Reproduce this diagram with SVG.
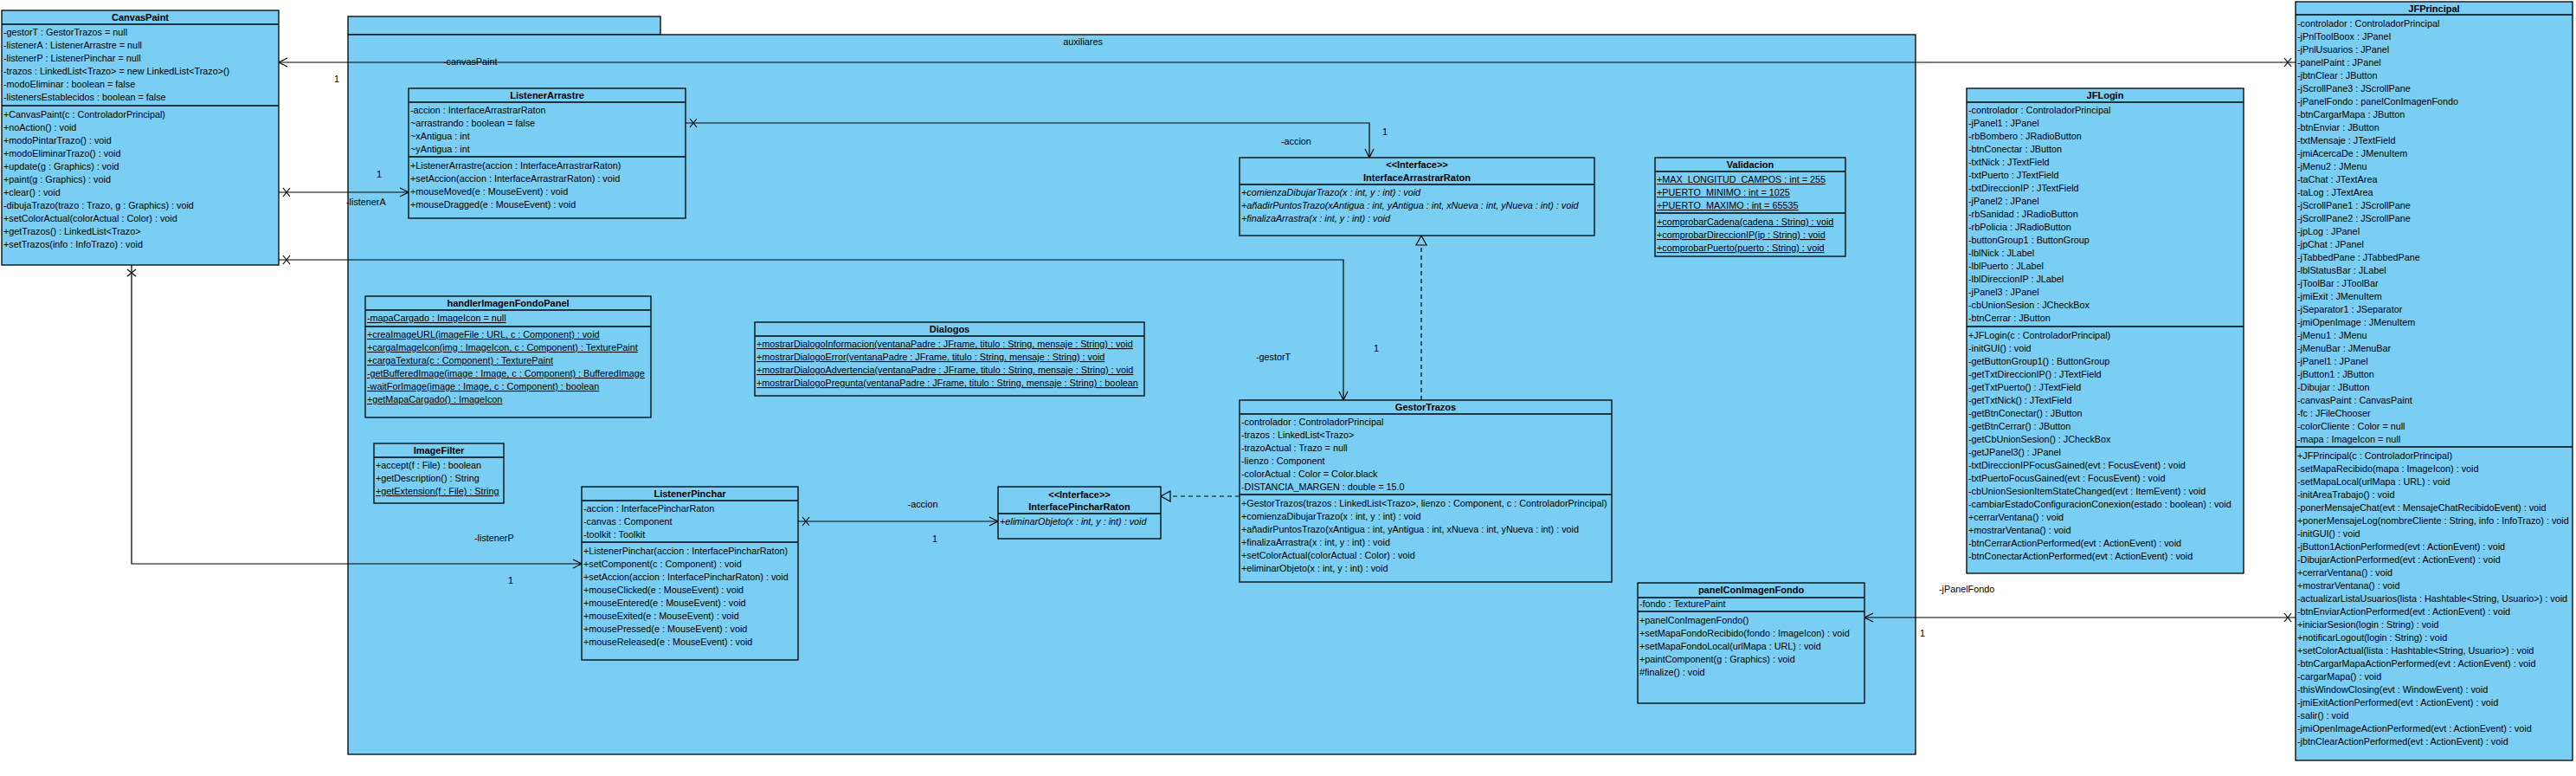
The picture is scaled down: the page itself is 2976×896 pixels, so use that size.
<svg xmlns="http://www.w3.org/2000/svg" width="2976" height="896" viewBox="0 0 2976 896">
<style>
.bg{fill:#fff}
.box{fill:#7ACEF4;stroke:#000;stroke-width:1.3}
.sep{stroke:#000;stroke-width:1.3}
.t{font-family:"Liberation Sans",Arial,sans-serif;font-size:10.8px;fill:#000}
.h{font-weight:bold;font-size:11px;text-anchor:middle}
.c{text-anchor:middle}
.u{text-decoration:underline}
.i{font-style:italic}
.ln{stroke:#000;stroke-width:1.2;fill:none}
.dash{stroke-dasharray:5 4}
</style>
<defs>
<marker id="open" markerUnits="userSpaceOnUse" viewBox="-14 -8 16 16" refX="0" refY="0" markerWidth="16" markerHeight="16" orient="auto">
<path d="M-10,-5 L0,0 L-10,5" fill="none" stroke="#000" stroke-width="1.2"/>
</marker>
<marker id="xs" markerUnits="userSpaceOnUse" viewBox="-2 -8 20 16" refX="0" refY="0" markerWidth="20" markerHeight="16" orient="auto">
<path d="M5,-5 L13,5 M5,5 L13,-5" fill="none" stroke="#000" stroke-width="1.2"/>
</marker>
<marker id="tri" markerUnits="userSpaceOnUse" viewBox="-14 -8 16 16" refX="0" refY="0" markerWidth="16" markerHeight="16" orient="auto">
<path d="M0,0 L-11,-6 L-11,6 Z" fill="#7ACEF4" stroke="#000" stroke-width="1.2"/>
</marker>
</defs>
<rect class="bg" x="0" y="0" width="2976" height="896"/>

<g id="pkg-auxiliares">
<rect class="box" x="402" y="19" width="361" height="21"/>
<rect class="box" x="402" y="40" width="1811" height="831"/>
<text class="t c" x="1251" y="52">auxiliares</text>
</g>

<g id="connectors">
<path class="ln" d="M2652,72 L322,72" marker-start="url(#xs)" marker-end="url(#open)"/>
<text class="t" x="512" y="75">-canvasPaint</text>
<text class="t" x="386" y="95">1</text>
<path class="ln" d="M322,222 L472,222" marker-start="url(#xs)" marker-end="url(#open)"/>
<text class="t" x="400" y="237">-listenerA</text>
<text class="t" x="435" y="205">1</text>
<path class="ln" d="M792,142 L1582,142 L1582,182" marker-start="url(#xs)" marker-end="url(#open)"/>
<text class="t" x="1480" y="167">-accion</text>
<text class="t" x="1597" y="156">1</text>
<path class="ln" d="M322,300 L1552,300 L1552,462" marker-start="url(#xs)" marker-end="url(#open)"/>
<text class="t" x="1451" y="416">-gestorT</text>
<text class="t" x="1587" y="406">1</text>
<path class="ln" d="M152,306 L152,651 L672,651" marker-start="url(#xs)" marker-end="url(#open)"/>
<text class="t" x="548" y="625">-listenerP</text>
<text class="t" x="587" y="674">1</text>
<path class="ln" d="M922,602 L1153,602" marker-start="url(#xs)" marker-end="url(#open)"/>
<text class="t c" x="1066" y="586">-accion</text>
<text class="t c" x="1080" y="626">1</text>
<path class="ln dash" d="M1432,573 L1341,573" marker-end="url(#tri)"/>
<path class="ln dash" d="M1642,462 L1642,272" marker-end="url(#tri)"/>
<path class="ln" d="M2652,713 L2154,713" marker-start="url(#xs)" marker-end="url(#open)"/>
<text class="t" x="2240" y="684">-jPanelFondo</text>
<text class="t" x="2218" y="735">1</text>
</g>

<g id="CanvasPaint">
<rect class="box" x="2" y="12" width="320" height="294"/>
<line class="sep" x1="2" y1="28" x2="322" y2="28"/>
<line class="sep" x1="2" y1="122" x2="322" y2="122"/>
<text class="t h" x="162" y="24">CanvasPaint</text>
<text class="t" x="4" y="41">-gestorT : GestorTrazos = null</text>
<text class="t" x="4" y="56">-listenerA : ListenerArrastre = null</text>
<text class="t" x="4" y="71">-listenerP : ListenerPinchar = null</text>
<text class="t" x="4" y="86">-trazos : LinkedList&lt;Trazo&gt; = new LinkedList&lt;Trazo&gt;()</text>
<text class="t" x="4" y="101">-modoEliminar : boolean = false</text>
<text class="t" x="4" y="116">-listenersEstablecidos : boolean = false</text>
<text class="t" x="4" y="136">+CanvasPaint(c : ControladorPrincipal)</text>
<text class="t" x="4" y="151">+noAction() : void</text>
<text class="t" x="4" y="166">+modoPintarTrazo() : void</text>
<text class="t" x="4" y="181">+modoEliminarTrazo() : void</text>
<text class="t" x="4" y="196">+update(g : Graphics) : void</text>
<text class="t" x="4" y="211">+paint(g : Graphics) : void</text>
<text class="t" x="4" y="226">+clear() : void</text>
<text class="t" x="4" y="241">-dibujaTrazo(trazo : Trazo, g : Graphics) : void</text>
<text class="t" x="4" y="256">+setColorActual(colorActual : Color) : void</text>
<text class="t" x="4" y="271">+getTrazos() : LinkedList&lt;Trazo&gt;</text>
<text class="t" x="4" y="286">+setTrazos(info : InfoTrazo) : void</text>
</g>

<g id="ListenerArrastre">
<rect class="box" x="472" y="102" width="320" height="150"/>
<line class="sep" x1="472" y1="118" x2="792" y2="118"/>
<line class="sep" x1="472" y1="181" x2="792" y2="181"/>
<text class="t h" x="632" y="114">ListenerArrastre</text>
<text class="t" x="474" y="131">-accion : InterfaceArrastrarRaton</text>
<text class="t" x="474" y="146">~arrastrando : boolean = false</text>
<text class="t" x="474" y="161">~xAntigua : int</text>
<text class="t" x="474" y="176">~yAntigua : int</text>
<text class="t" x="474" y="195">+ListenerArrastre(accion : InterfaceArrastrarRaton)</text>
<text class="t" x="474" y="210">+setAccion(accion : InterfaceArrastrarRaton) : void</text>
<text class="t" x="474" y="225">+mouseMoved(e : MouseEvent) : void</text>
<text class="t" x="474" y="240">+mouseDragged(e : MouseEvent) : void</text>
</g>

<g id="InterfaceArrastrarRaton">
<rect class="box" x="1432" y="182" width="410" height="90"/>
<line class="sep" x1="1432" y1="213" x2="1842" y2="213"/>
<text class="t h" x="1637" y="194">&lt;&lt;Interface&gt;&gt;</text>
<text class="t h" x="1637" y="209">InterfaceArrastrarRaton</text>
<text class="t i" x="1434" y="226">+comienzaDibujarTrazo(x : int, y : int) : void</text>
<text class="t i" x="1434" y="241">+añadirPuntosTrazo(xAntigua : int, yAntigua : int, xNueva : int, yNueva : int) : void</text>
<text class="t i" x="1434" y="256">+finalizaArrastra(x : int, y : int) : void</text>
</g>

<g id="Validacion">
<rect class="box" x="1912" y="182" width="220" height="114"/>
<line class="sep" x1="1912" y1="198" x2="2132" y2="198"/>
<line class="sep" x1="1912" y1="246" x2="2132" y2="246"/>
<text class="t h" x="2022" y="194">Validacion</text>
<text class="t u" x="1914" y="211">+MAX_LONGITUD_CAMPOS : int = 255</text>
<text class="t u" x="1914" y="226">+PUERTO_MINIMO : int = 1025</text>
<text class="t u" x="1914" y="241">+PUERTO_MAXIMO : int = 65535</text>
<text class="t u" x="1914" y="260">+comprobarCadena(cadena : String) : void</text>
<text class="t u" x="1914" y="275">+comprobarDireccionIP(ip : String) : void</text>
<text class="t u" x="1914" y="290">+comprobarPuerto(puerto : String) : void</text>
</g>

<g id="handlerImagenFondoPanel">
<rect class="box" x="422" y="342" width="330" height="140"/>
<line class="sep" x1="422" y1="358" x2="752" y2="358"/>
<line class="sep" x1="422" y1="377" x2="752" y2="377"/>
<text class="t h" x="587" y="354">handlerImagenFondoPanel</text>
<text class="t u" x="424" y="371">-mapaCargado : ImageIcon = null</text>
<text class="t u" x="424" y="390">+creaImageURL(imageFile : URL, c : Component) : void</text>
<text class="t u" x="424" y="405">+cargaImageIcon(img : ImageIcon, c : Component) : TexturePaint</text>
<text class="t u" x="424" y="420">+cargaTextura(c : Component) : TexturePaint</text>
<text class="t u" x="424" y="435">-getBufferedImage(image : Image, c : Component) : BufferedImage</text>
<text class="t u" x="424" y="450">-waitForImage(image : Image, c : Component) : boolean</text>
<text class="t u" x="424" y="465">+getMapaCargado() : ImageIcon</text>
</g>

<g id="ImageFilter">
<rect class="box" x="432" y="512" width="150" height="69"/>
<line class="sep" x1="432" y1="528" x2="582" y2="528"/>
<text class="t h" x="507" y="524">ImageFilter</text>
<text class="t" x="434" y="541">+accept(f : File) : boolean</text>
<text class="t" x="434" y="556">+getDescription() : String</text>
<text class="t u" x="434" y="571">+getExtension(f : File) : String</text>
</g>

<g id="Dialogos">
<rect class="box" x="872" y="372" width="450" height="85"/>
<line class="sep" x1="872" y1="388" x2="1322" y2="388"/>
<text class="t h" x="1097" y="384">Dialogos</text>
<text class="t u" x="874" y="401">+mostrarDialogoInformacion(ventanaPadre : JFrame, titulo : String, mensaje : String) : void</text>
<text class="t u" x="874" y="416">+mostrarDialogoError(ventanaPadre : JFrame, titulo : String, mensaje : String) : void</text>
<text class="t u" x="874" y="431">+mostrarDialogoAdvertencia(ventanaPadre : JFrame, titulo : String, mensaje : String) : void</text>
<text class="t u" x="874" y="446">+mostrarDialogoPregunta(ventanaPadre : JFrame, titulo : String, mensaje : String) : boolean</text>
</g>

<g id="GestorTrazos">
<rect class="box" x="1432" y="462" width="430" height="210"/>
<line class="sep" x1="1432" y1="478" x2="1862" y2="478"/>
<line class="sep" x1="1432" y1="571" x2="1862" y2="571"/>
<text class="t h" x="1647" y="474">GestorTrazos</text>
<text class="t" x="1434" y="491">-controlador : ControladorPrincipal</text>
<text class="t" x="1434" y="506">-trazos : LinkedList&lt;Trazo&gt;</text>
<text class="t" x="1434" y="521">-trazoActual : Trazo = null</text>
<text class="t" x="1434" y="536">-lienzo : Component</text>
<text class="t" x="1434" y="551">-colorActual : Color = Color.black</text>
<text class="t" x="1434" y="566">-DISTANCIA_MARGEN : double = 15.0</text>
<text class="t" x="1434" y="585">+GestorTrazos(trazos : LinkedList&lt;Trazo&gt;, lienzo : Component, c : ControladorPrincipal)</text>
<text class="t" x="1434" y="600">+comienzaDibujarTrazo(x : int, y : int) : void</text>
<text class="t" x="1434" y="615">+añadirPuntosTrazo(xAntigua : int, yAntigua : int, xNueva : int, yNueva : int) : void</text>
<text class="t" x="1434" y="630">+finalizaArrastra(x : int, y : int) : void</text>
<text class="t" x="1434" y="645">+setColorActual(colorActual : Color) : void</text>
<text class="t" x="1434" y="660">+eliminarObjeto(x : int, y : int) : void</text>
</g>

<g id="ListenerPinchar">
<rect class="box" x="672" y="562" width="250" height="200"/>
<line class="sep" x1="672" y1="578" x2="922" y2="578"/>
<line class="sep" x1="672" y1="626" x2="922" y2="626"/>
<text class="t h" x="797" y="574">ListenerPinchar</text>
<text class="t" x="674" y="591">-accion : InterfacePincharRaton</text>
<text class="t" x="674" y="606">-canvas : Component</text>
<text class="t" x="674" y="621">-toolkit : Toolkit</text>
<text class="t" x="674" y="640">+ListenerPinchar(accion : InterfacePincharRaton)</text>
<text class="t" x="674" y="655">+setComponent(c : Component) : void</text>
<text class="t" x="674" y="670">+setAccion(accion : InterfacePincharRaton) : void</text>
<text class="t" x="674" y="685">+mouseClicked(e : MouseEvent) : void</text>
<text class="t" x="674" y="700">+mouseEntered(e : MouseEvent) : void</text>
<text class="t" x="674" y="715">+mouseExited(e : MouseEvent) : void</text>
<text class="t" x="674" y="730">+mousePressed(e : MouseEvent) : void</text>
<text class="t" x="674" y="745">+mouseReleased(e : MouseEvent) : void</text>
</g>

<g id="InterfacePincharRaton">
<rect class="box" x="1153" y="562" width="188" height="60"/>
<line class="sep" x1="1153" y1="593" x2="1341" y2="593"/>
<text class="t h" x="1247" y="575">&lt;&lt;Interface&gt;&gt;</text>
<text class="t h" x="1247" y="589">InterfacePincharRaton</text>
<text class="t i" x="1155" y="606">+eliminarObjeto(x : int, y : int) : void</text>
</g>

<g id="panelConImagenFondo">
<rect class="box" x="1892" y="673" width="262" height="139"/>
<line class="sep" x1="1892" y1="690" x2="2154" y2="690"/>
<line class="sep" x1="1892" y1="706" x2="2154" y2="706"/>
<text class="t h" x="2023" y="685">panelConImagenFondo</text>
<text class="t" x="1894" y="701">-fondo : TexturePaint</text>
<text class="t" x="1894" y="720">+panelConImagenFondo()</text>
<text class="t" x="1894" y="735">+setMapaFondoRecibido(fondo : ImageIcon) : void</text>
<text class="t" x="1894" y="750">+setMapaFondoLocal(urlMapa : URL) : void</text>
<text class="t" x="1894" y="765">+paintComponent(g : Graphics) : void</text>
<text class="t" x="1894" y="780">#finalize() : void</text>
</g>

<g id="JFLogin">
<rect class="box" x="2272" y="102" width="320" height="560"/>
<line class="sep" x1="2272" y1="118" x2="2592" y2="118"/>
<line class="sep" x1="2272" y1="377" x2="2592" y2="377"/>
<text class="t h" x="2432" y="114">JFLogin</text>
<text class="t" x="2274" y="131">-controlador : ControladorPrincipal</text>
<text class="t" x="2274" y="146">-jPanel1 : JPanel</text>
<text class="t" x="2274" y="161">-rbBombero : JRadioButton</text>
<text class="t" x="2274" y="176">-btnConectar : JButton</text>
<text class="t" x="2274" y="191">-txtNick : JTextField</text>
<text class="t" x="2274" y="206">-txtPuerto : JTextField</text>
<text class="t" x="2274" y="221">-txtDireccionIP : JTextField</text>
<text class="t" x="2274" y="236">-jPanel2 : JPanel</text>
<text class="t" x="2274" y="251">-rbSanidad : JRadioButton</text>
<text class="t" x="2274" y="266">-rbPolicia : JRadioButton</text>
<text class="t" x="2274" y="281">-buttonGroup1 : ButtonGroup</text>
<text class="t" x="2274" y="296">-lblNick : JLabel</text>
<text class="t" x="2274" y="311">-lblPuerto : JLabel</text>
<text class="t" x="2274" y="326">-lblDireccionIP : JLabel</text>
<text class="t" x="2274" y="341">-jPanel3 : JPanel</text>
<text class="t" x="2274" y="356">-cbUnionSesion : JCheckBox</text>
<text class="t" x="2274" y="371">-btnCerrar : JButton</text>
<text class="t" x="2274" y="391">+JFLogin(c : ControladorPrincipal)</text>
<text class="t" x="2274" y="406">-initGUI() : void</text>
<text class="t" x="2274" y="421">-getButtonGroup1() : ButtonGroup</text>
<text class="t" x="2274" y="436">-getTxtDireccionIP() : JTextField</text>
<text class="t" x="2274" y="451">-getTxtPuerto() : JTextField</text>
<text class="t" x="2274" y="466">-getTxtNick() : JTextField</text>
<text class="t" x="2274" y="481">-getBtnConectar() : JButton</text>
<text class="t" x="2274" y="496">-getBtnCerrar() : JButton</text>
<text class="t" x="2274" y="511">-getCbUnionSesion() : JCheckBox</text>
<text class="t" x="2274" y="526">-getJPanel3() : JPanel</text>
<text class="t" x="2274" y="541">-txtDireccionIPFocusGained(evt : FocusEvent) : void</text>
<text class="t" x="2274" y="556">-txtPuertoFocusGained(evt : FocusEvent) : void</text>
<text class="t" x="2274" y="571">-cbUnionSesionItemStateChanged(evt : ItemEvent) : void</text>
<text class="t" x="2274" y="586">-cambiarEstadoConfiguracionConexion(estado : boolean) : void</text>
<text class="t" x="2274" y="601">+cerrarVentana() : void</text>
<text class="t" x="2274" y="616">+mostrarVentana() : void</text>
<text class="t" x="2274" y="631">-btnCerrarActionPerformed(evt : ActionEvent) : void</text>
<text class="t" x="2274" y="646">-btnConectarActionPerformed(evt : ActionEvent) : void</text>
</g>

<g id="JFPrincipal">
<rect class="box" x="2652" y="2" width="320" height="876"/>
<line class="sep" x1="2652" y1="17" x2="2972" y2="17"/>
<line class="sep" x1="2652" y1="516" x2="2972" y2="516"/>
<text class="t h" x="2812" y="14">JFPrincipal</text>
<text class="t" x="2654" y="31">-controlador : ControladorPrincipal</text>
<text class="t" x="2654" y="46">-jPnlToolBoox : JPanel</text>
<text class="t" x="2654" y="61">-jPnlUsuarios : JPanel</text>
<text class="t" x="2654" y="76">-panelPaint : JPanel</text>
<text class="t" x="2654" y="91">-jbtnClear : JButton</text>
<text class="t" x="2654" y="106">-jScrollPane3 : JScrollPane</text>
<text class="t" x="2654" y="121">-jPanelFondo : panelConImagenFondo</text>
<text class="t" x="2654" y="136">-btnCargarMapa : JButton</text>
<text class="t" x="2654" y="151">-btnEnviar : JButton</text>
<text class="t" x="2654" y="166">-txtMensaje : JTextField</text>
<text class="t" x="2654" y="181">-jmiAcercaDe : JMenuItem</text>
<text class="t" x="2654" y="196">-jMenu2 : JMenu</text>
<text class="t" x="2654" y="211">-taChat : JTextArea</text>
<text class="t" x="2654" y="226">-taLog : JTextArea</text>
<text class="t" x="2654" y="241">-jScrollPane1 : JScrollPane</text>
<text class="t" x="2654" y="256">-jScrollPane2 : JScrollPane</text>
<text class="t" x="2654" y="271">-jpLog : JPanel</text>
<text class="t" x="2654" y="286">-jpChat : JPanel</text>
<text class="t" x="2654" y="301">-jTabbedPane : JTabbedPane</text>
<text class="t" x="2654" y="316">-lblStatusBar : JLabel</text>
<text class="t" x="2654" y="331">-jToolBar : JToolBar</text>
<text class="t" x="2654" y="346">-jmiExit : JMenuItem</text>
<text class="t" x="2654" y="361">-jSeparator1 : JSeparator</text>
<text class="t" x="2654" y="376">-jmiOpenImage : JMenuItem</text>
<text class="t" x="2654" y="391">-jMenu1 : JMenu</text>
<text class="t" x="2654" y="406">-jMenuBar : JMenuBar</text>
<text class="t" x="2654" y="421">-jPanel1 : JPanel</text>
<text class="t" x="2654" y="436">-jButton1 : JButton</text>
<text class="t" x="2654" y="451">-Dibujar : JButton</text>
<text class="t" x="2654" y="466">-canvasPaint : CanvasPaint</text>
<text class="t" x="2654" y="481">-fc : JFileChooser</text>
<text class="t" x="2654" y="496">-colorCliente : Color = null</text>
<text class="t" x="2654" y="511">-mapa : ImageIcon = null</text>
<text class="t" x="2654" y="530">+JFPrincipal(c : ControladorPrincipal)</text>
<text class="t" x="2654" y="545">-setMapaRecibido(mapa : ImageIcon) : void</text>
<text class="t" x="2654" y="560">-setMapaLocal(urlMapa : URL) : void</text>
<text class="t" x="2654" y="575">-initAreaTrabajo() : void</text>
<text class="t" x="2654" y="590">-ponerMensajeChat(evt : MensajeChatRecibidoEvent) : void</text>
<text class="t" x="2654" y="605">+ponerMensajeLog(nombreCliente : String, info : InfoTrazo) : void</text>
<text class="t" x="2654" y="620">-initGUI() : void</text>
<text class="t" x="2654" y="635">-jButton1ActionPerformed(evt : ActionEvent) : void</text>
<text class="t" x="2654" y="650">-DibujarActionPerformed(evt : ActionEvent) : void</text>
<text class="t" x="2654" y="665">+cerrarVentana() : void</text>
<text class="t" x="2654" y="680">+mostrarVentana() : void</text>
<text class="t" x="2654" y="695">-actualizarListaUsuarios(lista : Hashtable&lt;String, Usuario&gt;) : void</text>
<text class="t" x="2654" y="710">-btnEnviarActionPerformed(evt : ActionEvent) : void</text>
<text class="t" x="2654" y="725">+iniciarSesion(login : String) : void</text>
<text class="t" x="2654" y="740">+notificarLogout(login : String) : void</text>
<text class="t" x="2654" y="755">+setColorActual(lista : Hashtable&lt;String, Usuario&gt;) : void</text>
<text class="t" x="2654" y="770">-btnCargarMapaActionPerformed(evt : ActionEvent) : void</text>
<text class="t" x="2654" y="785">-cargarMapa() : void</text>
<text class="t" x="2654" y="800">-thisWindowClosing(evt : WindowEvent) : void</text>
<text class="t" x="2654" y="815">-jmiExitActionPerformed(evt : ActionEvent) : void</text>
<text class="t" x="2654" y="830">-salir() : void</text>
<text class="t" x="2654" y="845">-jmiOpenImageActionPerformed(evt : ActionEvent) : void</text>
<text class="t" x="2654" y="860">-jbtnClearActionPerformed(evt : ActionEvent) : void</text>
</g>
</svg>
